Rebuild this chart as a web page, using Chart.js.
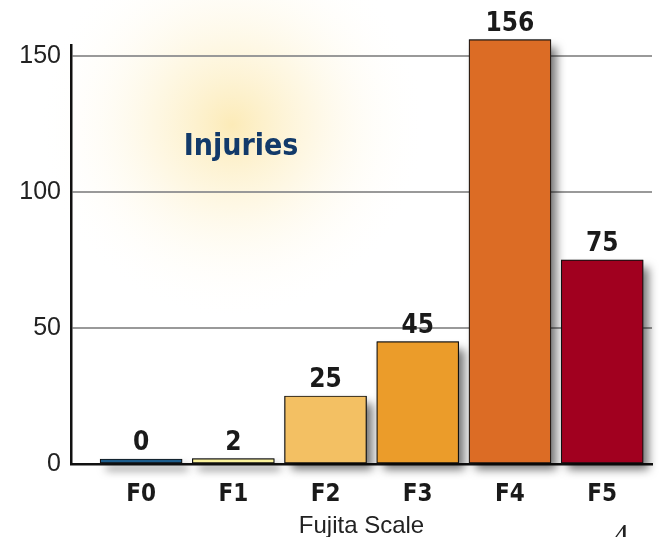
<!DOCTYPE html>
<html>
<head>
<meta charset="utf-8">
<script src="https://cdn.jsdelivr.net/npm/chart.js@4/dist/chart.umd.min.js"></script>
<style>
  html, body { margin:0; padding:0; background:#fff; }
  #wrap { width:660px; height:537px; position:relative; }
</style>
</head>
<body>
<div id="wrap"><canvas id="c" width="660" height="537"></canvas></div>
<script>
// ------------------------------------------------------
// data
// ------------------------------------------------------
const categories = ['F0', 'F1', 'F2', 'F3', 'F4', 'F5'];
const injuries   = [0, 2, 25, 45, 156, 75];
const barColors  = ['#1d5d8c', '#fbf39c', '#f3c063', '#eb9c2a', '#dc6c25', '#a1001f'];
const yTicks     = [0, 50, 100, 150];

const NARROW = '"Liberation Sans Narrow", "DejaVu Sans Condensed", "Liberation Sans", sans-serif';

// ------------------------------------------------------
// plugins: glow background, bar shadow, value labels, page number
// ------------------------------------------------------
const glowBg = {
  id: 'glowBg',
  beforeDraw(chart){
    const ctx = chart.ctx;
    ctx.save();
    ctx.fillStyle = '#fff';
    ctx.fillRect(0, 0, chart.width, chart.height);
    const g = ctx.createRadialGradient(232, 125, 0, 232, 125, 195);
    g.addColorStop(0, 'rgba(251,228,160,0.75)');
    g.addColorStop(0.4, 'rgba(253,240,200,0.5)');
    g.addColorStop(1, 'rgba(255,255,255,0)');
    ctx.fillStyle = g;
    ctx.fillRect(0, 0, chart.width, chart.height);

    // title inside the glow
    ctx.fillStyle = '#123a6a';
    ctx.font = 'bold 30px ' + NARROW;
    ctx.textAlign = 'center';
    ctx.textBaseline = 'alphabetic';
    ctx.fillText('Injuries', 241, 155);
    ctx.restore();
  }
};

// Chart.js clips each bar to its own rect, so the shadow is drawn separately
const barShadow = {
  id: 'barShadow',
  beforeDatasetsDraw(chart){
    const ctx = chart.ctx;
    const meta = chart.getDatasetMeta(0);
    ctx.save();
    ctx.shadowColor = 'rgba(0,0,0,0.55)';
    ctx.shadowBlur = 9;
    ctx.shadowOffsetX = 6;
    ctx.shadowOffsetY = 7;
    ctx.fillStyle = 'rgba(90,90,90,1)';
    meta.data.forEach(bar=>{
      const w = bar.width;
      const top = Math.min(bar.y, bar.base);
      const h = Math.abs(bar.base - bar.y);
      ctx.fillRect(bar.x - w/2, top, w, h);
    });
    ctx.restore();
  }
};

const valueLabels = {
  id: 'valueLabels',
  afterDatasetsDraw(chart){
    const ctx = chart.ctx;
    const meta = chart.getDatasetMeta(0);
    ctx.save();
    ctx.fillStyle = '#1a1a1a';
    ctx.font = 'bold 26px ' + NARROW;
    ctx.textAlign = 'center';
    ctx.textBaseline = 'alphabetic';
    meta.data.forEach((bar, i)=>{
      ctx.fillText(String(injuries[i]), bar.x, bar.y - 9);
    });
    // page number
    ctx.fillStyle = '#222';
    ctx.font = '32px "Liberation Serif", "DejaVu Serif", serif';
    ctx.fillText('4', 621, 546);
    ctx.restore();
  }
};

// ------------------------------------------------------
// chart
// ------------------------------------------------------
new Chart(document.getElementById('c').getContext('2d'), {
  type: 'bar',
  data: {
    datasets: [{
      label: 'Injuries',
      data: injuries.map((v, i)=>({ x: i, y: v })),
      backgroundColor: barColors,
      borderColor: '#111',
      borderWidth: 1.2,
      borderSkipped: false,
      barThickness: 82,
      minBarLength: 5,
      clip: false
    }]
  },
  options: {
    responsive: false,
    animation: false,
    layout: { padding: { left: 0, right: 8, top: 45, bottom: 0 } },
    plugins: { legend: { display: false }, tooltip: { enabled: false } },
    scales: {
      x: {
        type: 'linear',
        offset: false,
        min: -0.76,
        max: 5.54,
        afterBuildTicks(scale){
          scale.ticks = categories.map((c, i)=>({ value: i }));
        },
        afterFit(scale){ scale.height = 73; },
        grid: { display: false, drawTicks: false },
        border: { display: true, color: '#111', width: 2.5 },
        ticks: {
          padding: 16,
          color: '#1a1a1a',
          font: { family: NARROW, size: 24, weight: 'bold' },
          callback: (v)=> categories[v]
        },
        title: {
          display: true,
          text: 'Fujita Scale',
          color: '#222',
          font: { family: '"Liberation Sans", Arial, sans-serif', size: 24 },
          padding: { top: 0, bottom: -4 }
        }
      },
      y: {
        min: 0,
        max: 154,
        afterBuildTicks(scale){
          scale.ticks = yTicks.map(v=>({ value: v }));
        },
        afterFit(scale){ scale.width = 71; },
        grid: { color: '#999', lineWidth: 2, drawTicks: false },
        border: { display: true, color: '#111', width: 2.5 },
        ticks: {
          padding: 10,
          color: '#222',
          font: { family: '"Liberation Sans", Arial, sans-serif', size: 25 }
        }
      }
    }
  },
  plugins: [glowBg, barShadow, valueLabels]
});
</script>
</body>
</html>
